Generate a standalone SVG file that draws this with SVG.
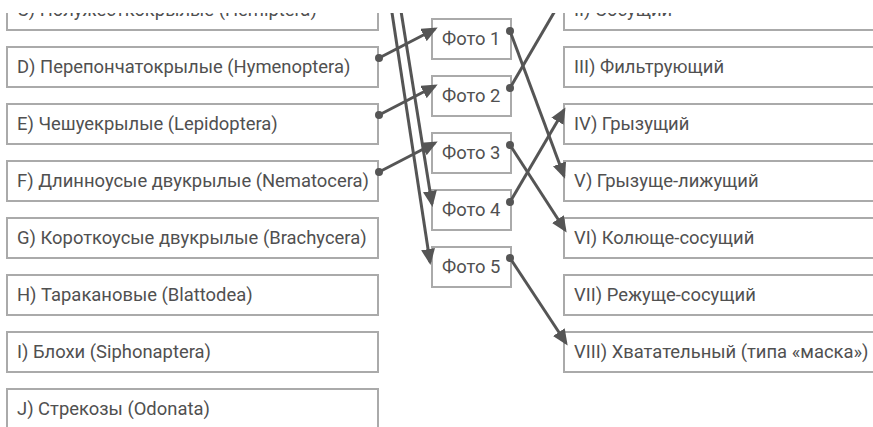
<svg xmlns="http://www.w3.org/2000/svg" width="873" height="427" viewBox="0 0 873 427">
<style>
.box{fill:#fff;stroke:#aaa;stroke-width:2}
.t{font-family:Roboto,"Liberation Sans",sans-serif;font-size:18.4px;fill:#505050}
.c{fill:none;stroke:#555;stroke-width:3;marker-end:url(#ah)}
.d{fill:#555}
</style>
<defs>
<marker id="ah" markerUnits="userSpaceOnUse" markerWidth="16" markerHeight="14" refX="13" refY="7" orient="auto" viewBox="0 0 16 14">
<path d="M0,0 L16,7 L0,14 z" fill="#555"/>
</marker>
<clipPath id="clip"><rect x="0" y="13" width="873" height="414"/></clipPath>
</defs>
<rect width="873" height="427" fill="#fff"/>
<g clip-path="url(#clip)">
<g id="left">
<g id="nC"><rect class="box" x="7" y="-10" width="371" height="40"/><text class="t" x="17" y="16">C) Полужесткокрылые (Hemiptera)</text></g>
<g id="nD"><rect class="box" x="7" y="47" width="371" height="40"/><text class="t" x="17" y="73">D) Перепончатокрылые (Hymenoptera)</text></g>
<g id="nE"><rect class="box" x="7" y="104" width="371" height="40"/><text class="t" x="17" y="130">E) Чешуекрылые (Lepidoptera)</text></g>
<g id="nF"><rect class="box" x="7" y="161" width="371" height="40"/><text class="t" x="17" y="187">F) Длинноусые двукрылые (Nematocera)</text></g>
<g id="nG"><rect class="box" x="7" y="218" width="371" height="40"/><text class="t" x="17" y="244">G) Короткоусые двукрылые (Brachycera)</text></g>
<g id="nH"><rect class="box" x="7" y="275" width="371" height="40"/><text class="t" x="17" y="301">H) Таракановые (Blattodea)</text></g>
<g id="nI"><rect class="box" x="7" y="332" width="371" height="40"/><text class="t" x="17" y="358">I) Блохи (Siphonaptera)</text></g>
<g id="nJ"><rect class="box" x="7" y="389" width="371" height="40"/><text class="t" x="17" y="415">J) Стрекозы (Odonata)</text></g>
</g>
<g id="photos">
<g id="p1"><rect class="box" x="432" y="19" width="79" height="40"/><text class="t" x="442" y="45">Фото 1</text></g>
<g id="p2"><rect class="box" x="432" y="76" width="79" height="40"/><text class="t" x="442" y="102">Фото 2</text></g>
<g id="p3"><rect class="box" x="432" y="133" width="79" height="40"/><text class="t" x="442" y="159">Фото 3</text></g>
<g id="p4"><rect class="box" x="432" y="190" width="79" height="40"/><text class="t" x="442" y="216">Фото 4</text></g>
<g id="p5"><rect class="box" x="432" y="247" width="79" height="40"/><text class="t" x="442" y="273">Фото 5</text></g>
</g>
<g id="right">
<g id="rII"><rect class="box" x="564" y="-10" width="320" height="40"/><text class="t" x="574" y="16">II) Сосущий</text></g>
<g id="rIII"><rect class="box" x="564" y="47" width="320" height="40"/><text class="t" x="574" y="73">III) Фильтрующий</text></g>
<g id="rIV"><rect class="box" x="564" y="104" width="320" height="40"/><text class="t" x="574" y="130">IV) Грызущий</text></g>
<g id="rV"><rect class="box" x="564" y="161" width="320" height="40"/><text class="t" x="574" y="187">V) Грызуще-лижущий</text></g>
<g id="rVI"><rect class="box" x="564" y="218" width="320" height="40"/><text class="t" x="574" y="244">VI) Колюще-сосущий</text></g>
<g id="rVII"><rect class="box" x="564" y="275" width="320" height="40"/><text class="t" x="574" y="301">VII) Режуще-сосущий</text></g>
<g id="rVIII"><rect class="box" x="564" y="332" width="320" height="40"/><text class="t" x="574" y="358">VIII) Хватательный (типа «маска»)</text></g>
</g>
<g id="connectors">
<path class="c" d="M387,-20 L430,262"/>
<path class="c" d="M396,-20 L432,204"/>
<path class="c" d="M379,58 L435,29"/>
<path class="c" d="M379,115 L435,86"/>
<path class="c" d="M379,172 L435,143"/>
<path class="c" d="M510,31 L564,176"/>
<path class="c" d="M510,88 L566,-8"/>
<path class="c" d="M510,145 L565,230"/>
<path class="c" d="M510,202 L564,110"/>
<path class="c" d="M510,258 L566,343"/>
<circle class="d" cx="379" cy="58" r="4"/>
<circle class="d" cx="379" cy="115" r="4"/>
<circle class="d" cx="379" cy="172" r="4"/>
<circle class="d" cx="510" cy="31" r="4"/>
<circle class="d" cx="510" cy="88" r="4"/>
<circle class="d" cx="510" cy="145" r="4"/>
<circle class="d" cx="510" cy="202" r="4"/>
<circle class="d" cx="510" cy="258" r="4"/>
</g>
</g>
</svg>
